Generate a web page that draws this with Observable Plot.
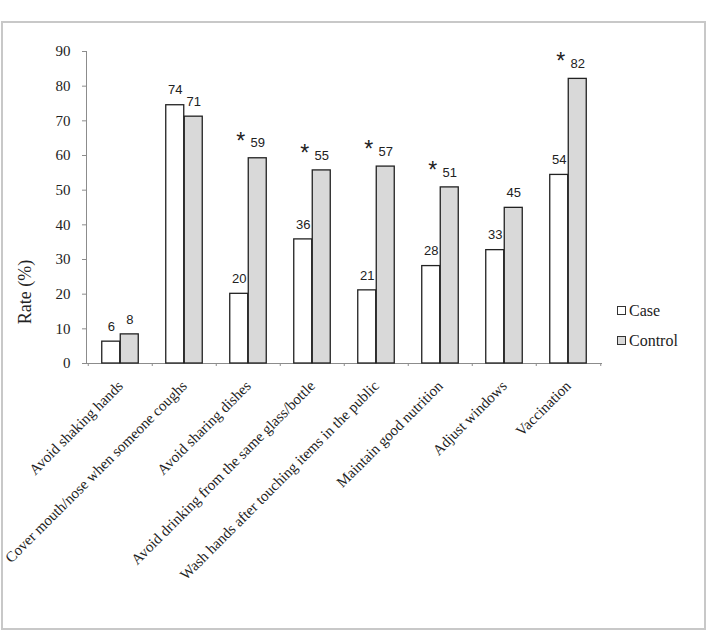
<!DOCTYPE html>
<html>
<head>
<meta charset="utf-8">
<script src="https://cdn.jsdelivr.net/npm/d3@7"></script>
<script src="https://cdn.jsdelivr.net/npm/@observablehq/plot@0.6"></script>
<style>
  body { margin: 0; background: #fff; }
  #wrap { position: relative; width: 707px; height: 632px; overflow: hidden; background: #fff; }
  #wrap svg { position: absolute; left: 0; top: 0; }
  #border { position: absolute; left: 1px; top: 21px; width: 705px; height: 609px; box-sizing: border-box; border: 2px solid #c8c8c8; pointer-events: none; }
  #ytitle { position: absolute; left: 25px; top: 292px; transform: translate(-50%, -50%) rotate(-90deg); font-family: "Liberation Serif", "Times New Roman", serif; font-size: 18px; color: #222; white-space: nowrap; }
  .leg { position: absolute; left: 617px; font-family: "Liberation Serif", "Times New Roman", serif; font-size: 16px; color: #222; white-space: nowrap; }
  .leg .box { display: inline-block; width: 7px; height: 7px; border: 1px solid #333; margin-right: 3px; vertical-align: 1px; }
</style>
</head>
<body>
<div id="wrap">
  <div id="chart"></div>
  <div id="ytitle">Rate (%)</div>
  <div id="legend"></div>
  <div id="border"></div>
</div>
<script>
const categories = [
  "Avoid shaking hands",
  "Cover mouth/nose when someone coughs",
  "Avoid sharing dishes",
  "Avoid drinking from the same glass/bottle",
  "Wash hands after touching items in the public",
  "Maintain good nutrition",
  "Adjust windows",
  "Vaccination"
];
const caseValues = [6.3, 74.5, 20.1, 35.8, 21.1, 28.1, 32.7, 54.4];
const controlValues = [8.4, 71.2, 59.2, 55.7, 56.8, 50.8, 44.9, 82.1];
const caseLabels = [6, 74, 20, 36, 21, 28, 33, 54];
const controlLabels = [8, 71, 59, 55, 57, 51, 45, 82];
const significant = [false, false, true, true, true, true, false, true];
const yTicks = [0, 10, 20, 30, 40, 50, 60, 70, 80, 90];
const groups = ["Case", "Control"];
const groupFills = ["#ffffff", "#d9d9d9"];

const caseData = categories.map((c, i) => ({cat: c, v: caseValues[i], label: String(caseLabels[i])}));
const controlData = categories.map((c, i) => ({cat: c, v: controlValues[i], label: String(controlLabels[i]), sig: significant[i]}));

const W = 707, H = 632;
const mL = 86, mR = 105, mT = 51, mB = 269;
const bw = (W - mL - mR) / categories.length;
const barW = 18.5;
const half = bw / 2;
const serif = '"Liberation Serif", "Times New Roman", serif';
const sans = '"Liberation Sans", Arial, sans-serif';

const chart = Plot.plot({
  width: W,
  height: H,
  marginLeft: mL,
  marginRight: mR,
  marginTop: mT,
  marginBottom: mB,
  style: {background: "transparent", color: "#222", fontFamily: serif, fontSize: "15px"},
  x: {type: "band", domain: categories, padding: 0},
  y: {domain: [0, 90]},
  marks: [
    Plot.frame({anchor: "left", stroke: "#8c8c8c"}),
    Plot.ruleY([0], {stroke: "#8c8c8c"}),
    Plot.axisY({ticks: yTicks, tickSize: 4, tickPadding: 12, stroke: "#8c8c8c", fill: "#222", fontSize: 15, fontFamily: serif, label: null}),
    Plot.axisX({tickSize: 3, tickFormat: () => "", dx: -half, stroke: "#8c8c8c", label: null}),
    Plot.axisX([categories[categories.length - 1]], {tickSize: 3, tickFormat: () => "", dx: half, stroke: "#8c8c8c", label: null}),
    Plot.axisX({tickSize: 0, tickPadding: 20, tickRotate: -45, fontSize: 15, fontFamily: serif, fill: "#222", label: null}),
    Plot.barY(caseData, {x: "cat", y: "v", fill: groupFills[0], stroke: "#222", strokeWidth: 1.3, insetLeft: half - barW, insetRight: half}),
    Plot.barY(controlData, {x: "cat", y: "v", fill: groupFills[1], stroke: "#222", strokeWidth: 1.3, insetLeft: half, insetRight: half - barW}),
    Plot.text(caseData, {x: "cat", y: "v", text: "label", dx: -barW / 2, dy: -15, lineAnchor: "middle", fontSize: 13, fontFamily: sans, fill: "#222"}),
    Plot.text(controlData, {x: "cat", y: "v", text: "label", dx: barW / 2, dy: -15, lineAnchor: "middle", fontSize: 13, fontFamily: sans, fill: "#222"}),
    Plot.text(controlData.filter(d => d.sig), {x: "cat", y: "v", text: () => "*", dx: barW / 2 - 17, dy: -17, lineAnchor: "middle", fontSize: 23, fontFamily: sans, fill: "#222"})
  ]
});
document.getElementById("chart").appendChild(chart);

const legend = document.getElementById("legend");
const legendTops = [302, 332];
groups.forEach((g, i) => {
  const d = document.createElement("div");
  d.className = "leg";
  d.style.top = legendTops[i] + "px";
  d.innerHTML = `<span class="box" style="background:${groupFills[i]}"></span>${g}`;
  legend.appendChild(d);
});
</script>
</body>
</html>
